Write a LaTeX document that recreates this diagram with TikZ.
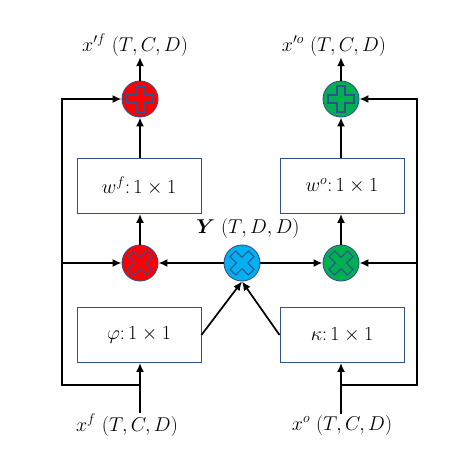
\RequirePackage{fix-cm}
\documentclass[tikz,border=0pt]{standalone}
\usepackage{amsmath,amssymb}
\usepackage{tikz}
\usetikzlibrary{arrows.meta,positioning,calc}
\definecolor{opline}{HTML}{2F528F}
\definecolor{opred}{HTML}{FF0000}
\definecolor{opgreen}{HTML}{00B050}
\definecolor{opblue}{HTML}{00B0F0}
\tikzset{
  nyil/.style={-{Latex[length=9pt,width=8pt]},line width=1.7pt},
  dob/.style={draw=opline,line width=0.9pt,minimum width=124pt,minimum height=55pt,inner sep=0pt},
  muv/.style={circle,draw=opline,line width=0.9pt,minimum size=36pt,inner sep=0pt},
  cimke/.style={inner sep=1pt},
}
% plusz/kereszt jel a kor kozepen
\newcommand{\muvjel}[2]{%
  \draw[opline,line width=1.1pt,shift={(#1)},rotate=#2]
    (4,13) -- (4,4) -- (13,4) -- (13,-4) -- (4,-4) -- (4,-13) -- (-4,-13)
    -- (-4,-4) -- (-13,-4) -- (-13,4) -- (-4,4) -- (-4,13) -- cycle;}

\begin{document}
\begin{tikzpicture}[x=1pt,y=-1pt,font=\fontsize{20}{24}\selectfont]
  \useasboundingbox (0,0) rectangle (474,474);
  % muveleti korok
  \node[muv,fill=opred] (plusf) at (140,99) {};
  \node[muv,fill=opgreen] (pluso) at (341,99) {};
  \node[muv,fill=opred] (crossf) at (140,263) {};
  \node[muv,fill=opblue] (Y) at (242,263) {};
  \node[muv,fill=opgreen] (crosso) at (341,263) {};
  \muvjel{plusf.center}{0}
  \muvjel{pluso.center}{0}
  \muvjel{crossf.center}{45}
  \muvjel{Y.center}{45}
  \muvjel{crosso.center}{45}
  % dobozok
  \node[dob] (wf) at (139,186) {$w^f{:}\,1\times 1$};
  \node[dob] (wo) at (342,186) {$w^o{:}\,1\times 1$};
  \node[dob] (phi) at (139,335) {$\varphi{:}\,1\times 1$};
  \node[dob] (kappa) at (342,335) {$\kappa{:}\,1\times 1$};
  % feliratok
  \node[cimke] (outf) at (135,45) {$x'^f\ (T,C,D)$};
  \node[cimke] (outo) at (334,46) {$x'^o\ (T,C,D)$};
  \node[cimke] (ylab) at (248,228) {$\boldsymbol{Y}\ (T,D,D)$};
  \node[cimke] (xf) at (127,425) {$x^f\ (T,C,D)$};
  \node[cimke] (xo) at (342,425) {$x^o\ (T,C,D)$};
  % segedpontok
  \coordinate (jf) at (140,385);
  \coordinate (jo) at (341,385);
  \coordinate (lt) at (62,99);
  \coordinate (lm) at (62,263);
  \coordinate (rt) at (417,99);
  \coordinate (rm) at (417,263);
  % bemenetek
  \draw[nyil] (xf.north -| jf) -- (phi.south -| jf);
  \draw[nyil] (xo.north -| jo) -- (kappa.south -| jo);
  \draw[nyil] (jf) -| (lt) -- (plusf.west);
  \draw[nyil] (jo) -| (rt) -- (pluso.east);
  \draw[nyil] (lm) -- (crossf.west);
  \draw[nyil] (rm) -- (crosso.east);
  % kozepso ag
  \draw[nyil] (phi.east) -- (Y.south);
  \draw[nyil] (kappa.west) -- (Y.south);
  \draw[nyil] (Y.west) -- (crossf.east);
  \draw[nyil] (Y.east) -- (crosso.west);
  % felfele
  \draw[nyil] (crossf.north) -- (wf.south -| crossf);
  \draw[nyil] (crosso.north) -- (wo.south -| crosso);
  \draw[nyil] (wf.north -| plusf) -- (plusf.south);
  \draw[nyil] (wo.north -| pluso) -- (pluso.south);
  \draw[nyil] (plusf.north) -- (plusf.north |- outf.south);
  \draw[nyil] (pluso.north) -- (pluso.north |- outo.south);
\end{tikzpicture}
\end{document}
